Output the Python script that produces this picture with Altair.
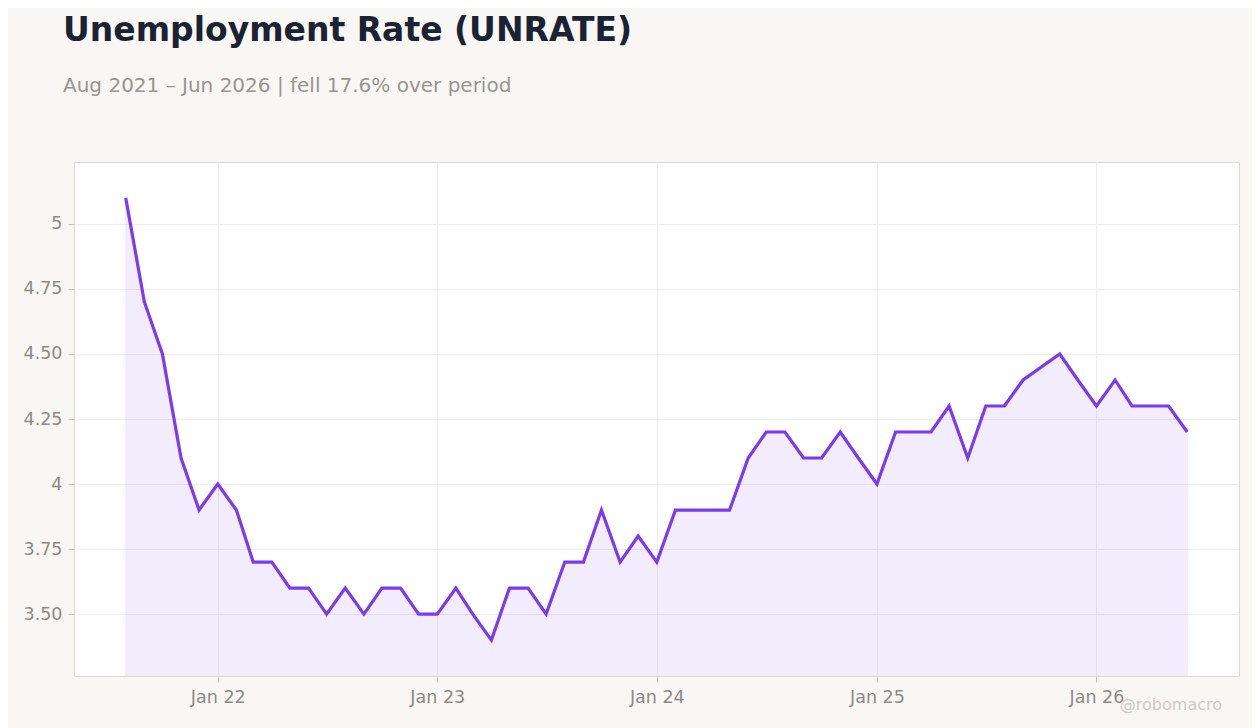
import altair as alt
import pandas as pd

# monthly observations (Oct 2025 not published)
months = (
    ["2021-08", "2021-09", "2021-10", "2021-11", "2021-12"]
    + [f"2022-{m:02d}" for m in range(1, 13)]
    + [f"2023-{m:02d}" for m in range(1, 13)]
    + [f"2024-{m:02d}" for m in range(1, 13)]
    + ["2025-01", "2025-02", "2025-03", "2025-04", "2025-05", "2025-06",
       "2025-07", "2025-08", "2025-09", "2025-11", "2025-12"]
    + ["2026-01", "2026-02", "2026-03", "2026-04", "2026-05", "2026-06"]
)
rates = [
    5.1, 4.7, 4.5, 4.1, 3.9,
    4.0, 3.9, 3.7, 3.7, 3.6, 3.6, 3.5, 3.6, 3.5, 3.6, 3.6, 3.5,
    3.5, 3.6, 3.5, 3.4, 3.6, 3.6, 3.5, 3.7, 3.7, 3.9, 3.7, 3.8,
    3.7, 3.9, 3.9, 3.9, 3.9, 4.1, 4.2, 4.2, 4.1, 4.1, 4.2, 4.1,
    4.0, 4.2, 4.2, 4.2, 4.3, 4.1, 4.3, 4.3, 4.4, 4.5, 4.4,
    4.3, 4.4, 4.3, 4.3, 4.3, 4.2,
]
year_ticks = [2022, 2023, 2024, 2025, 2026]
y_ticks = [3.5, 3.75, 4.0, 4.25, 4.5, 4.75, 5.0]

df = pd.DataFrame({"date": [m + "-01" for m in months], "rate": rates})

PURPLE = "#7c3aed"
FONT = "DejaVu Sans"

x = alt.X(
    "date:T",
    scale=alt.Scale(
        type="utc",
        domain=[alt.DateTime(year=2021, month=5, date=7, utc=True),
                alt.DateTime(year=2026, month=8, date=26, utc=True)],
    ),
    axis=alt.Axis(
        values=[alt.DateTime(year=y, month=1, date=1, utc=True) for y in year_ticks],
        labelExpr="utcFormat(datum.value, '%b %y')", title=None,
    ),
)
y = alt.Y(
    "rate:Q",
    scale=alt.Scale(domain=[3.262, 5.238], zero=False, nice=False),
    axis=alt.Axis(
        values=y_ticks, title=None,
        labelExpr="datum.value == 4 ? '4' : datum.value == 5 ? '5' : format(datum.value, '.2f')",
    ),
)

base = alt.Chart(df)
area = base.mark_area(color=PURPLE, opacity=0.09, stroke=PURPLE, strokeWidth=1, clip=True).encode(x=x, y=y)
line = base.mark_line(color=PURPLE, strokeWidth=3.2, clip=True).encode(x=x, y=y)
mark = alt.Chart(pd.DataFrame({"t": ["@robomacro"]})).mark_text(
    align="right", baseline="middle", font=FONT, fontSize=16, color="#cfcac5"
).encode(text="t:N", x=alt.value(1148), y=alt.value(543))

chart = alt.layer(area, line, mark).properties(
    width=1165,
    height=514,
    background="#f8f7f4",
    padding={"left": 15, "top": 7, "right": 13, "bottom": 20},
    title=alt.TitleParams(
        "Unemployment Rate (UNRATE)",
        subtitle="Aug 2021 – Jun 2026 | fell 17.6% over period",
        anchor="start", frame="group", dx=-11, offset=66,
        font=FONT, fontSize=33, fontWeight="bold", color="#1a2233",
        subtitleFont=FONT, subtitleFontSize=20, subtitleColor="#9a9590",
        subtitlePadding=28,
    ),
).configure_view(
    fill="white", stroke="#ddd8d0", strokeWidth=1
).configure_axis(
    labelFont=FONT, labelFontSize=17.5, labelColor="#8f8a85",
    gridColor="#efedeb", gridWidth=1, domain=False,
    tickColor="#c8c3bd", tickSize=6, labelPadding=6,
)

chart.save("out.html", embed_options={"renderer": "svg", "actions": False})
